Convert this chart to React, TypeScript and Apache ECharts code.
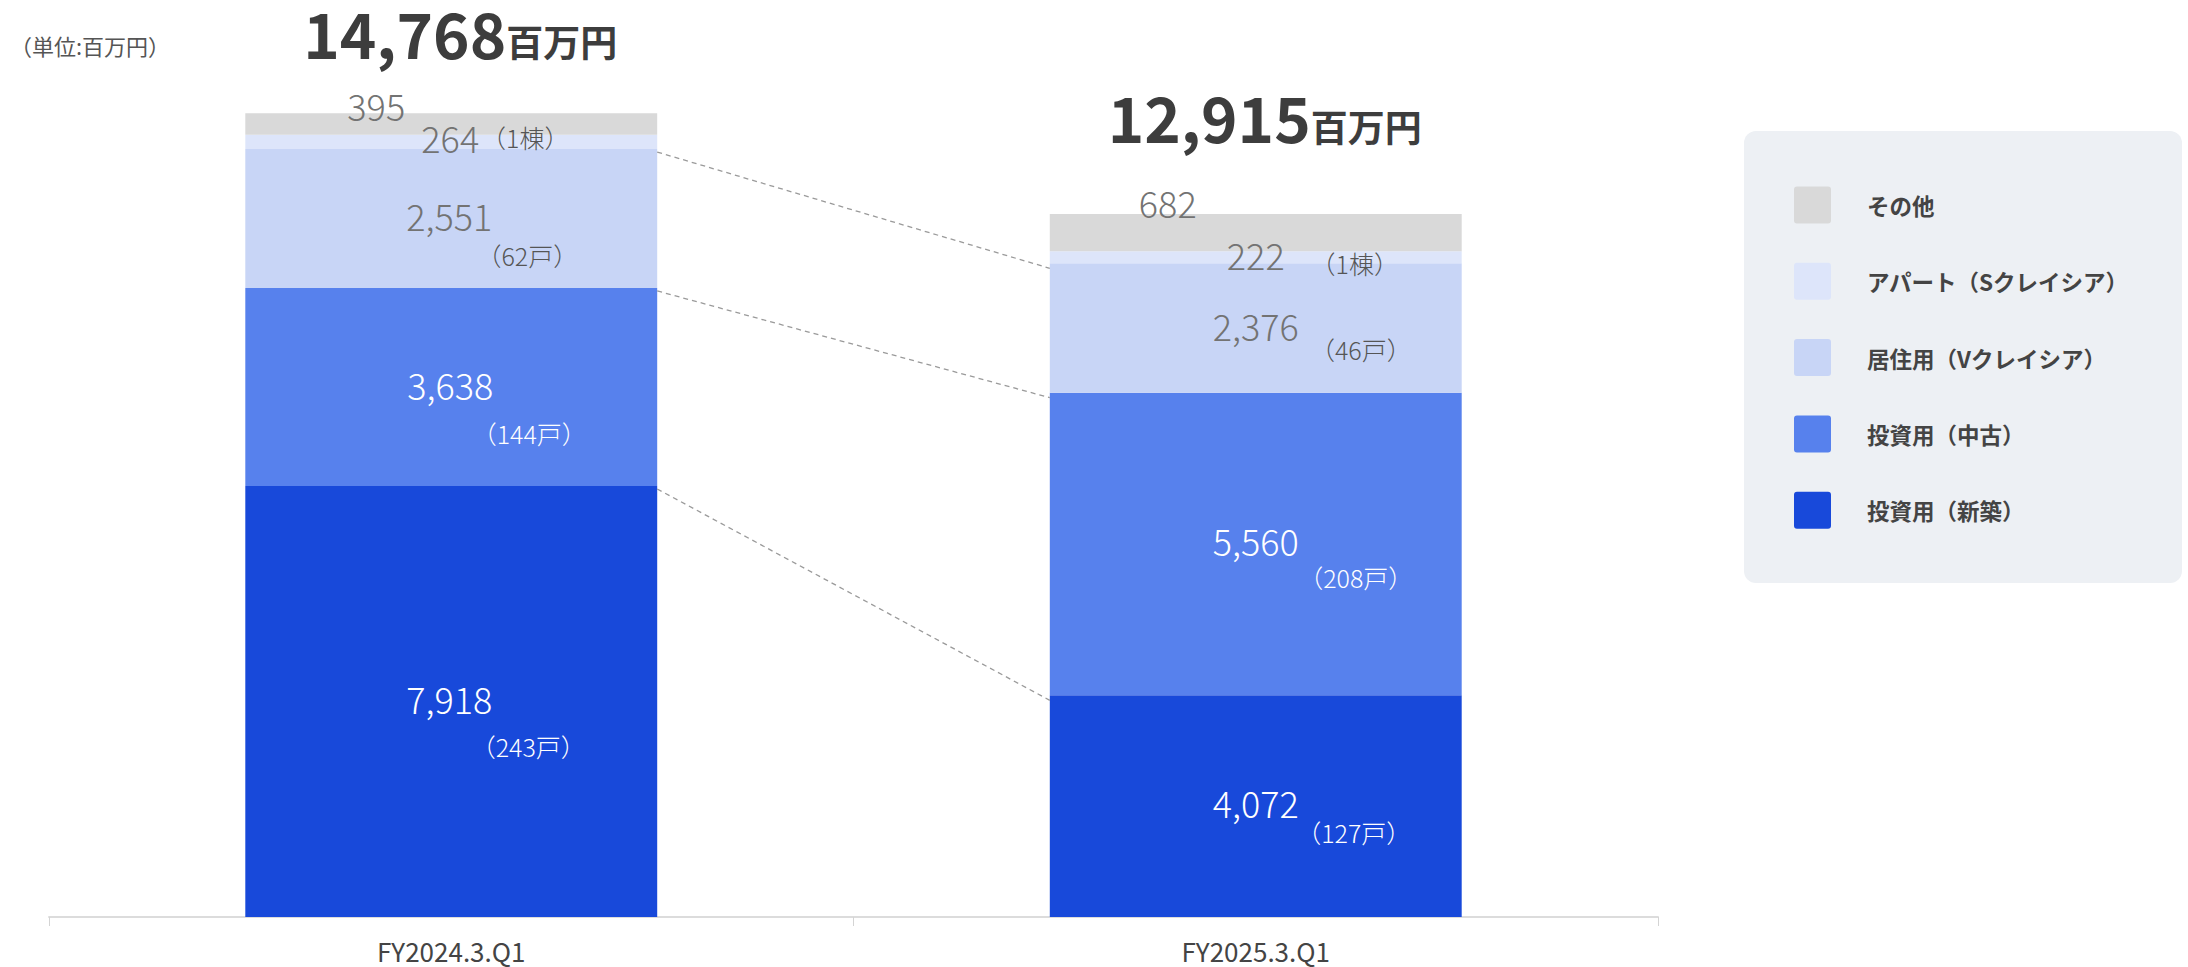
import React, { useEffect, useRef } from 'react';
import * as echarts from 'echarts';

const CATEGORIES = ['FY2024.3.Q1', 'FY2025.3.Q1'];
const SERIES_NAMES = ['投資用（新築）', '投資用（中古）', '居住用（Vクレイシア）', 'アパート（Sクレイシア）', 'その他'];
const SERIES_COLORS = ['#1849da', '#5781ed', '#c8d5f6', '#dde5fa', '#d9d9d9'];
const NEW_BUILD = [7918, 4072];
const USED = [3638, 5560];
const RESIDENTIAL = [2551, 2376];
const APARTMENT = [264, 222];
const OTHER = [395, 682];
const NEW_BUILD_UNITS = ['（243戸）', '（127戸）'];
const USED_UNITS = ['（144戸）', '（208戸）'];
const RESIDENTIAL_UNITS = ['（62戸）', '（46戸）'];
const APARTMENT_UNITS = ['（1棟）', '（1棟）'];
const TOTALS = [14768, 12915];
const TOTAL_UNIT = '百万円';
const SCALE_NOTE = '（単位:百万円）';

const SERIES_VALUES = [NEW_BUILD, USED, RESIDENTIAL, APARTMENT, OTHER];
const SERIES_UNITS: (string[] | null)[] = [NEW_BUILD_UNITS, USED_UNITS, RESIDENTIAL_UNITS, APARTMENT_UNITS, null];

// label layout (pixel shifts relative to segment centre)
const VALUE_SHIFT = [
  [[-2, -3], [0, -4]],
  [[-1, -3], [0, -4]],
  [[-2, -3], [0, -3]],
  [[-1, -5], [0, -3]],
  [[-75, -19], [-88, -31]],
];
const UNIT_SHIFT = [
  [[77, 45], [98, 26]],
  [[78, 46], [100, 33]],
  [[76, 37], [105, 21]],
  [[74, -5], [99, 6]],
];
const VALUE_COLORS = ['#ffffff', '#ffffff', '#737373', '#737373', '#737373'];
const UNIT_COLORS = ['#ffffff', '#ffffff', '#555555', '#555555'];
const BAR_RATIO = 0.512;
const FONT = "'Noto Sans CJK JP', 'Noto Sans', sans-serif";

export default function App() {
  const ref = useRef<HTMLDivElement>(null);
  useEffect(() => {
    if (!ref.current) return;
    const chart = echarts.init(ref.current, null, { renderer: 'svg' });

    const barSeries = SERIES_VALUES.map((vals, s) => ({
      name: SERIES_NAMES[s],
      type: 'bar',
      stack: 'total',
      barWidth: BAR_RATIO * 100 + '%',
      itemStyle: { color: SERIES_COLORS[s] },
      emphasis: { disabled: true },
      data: vals.map((v, i) => ({
        value: v,
        label: { offset: VALUE_SHIFT[s][i] },
      })),
      label: {
        show: true,
        position: 'inside',
        formatter: (p: any) => Number(p.value).toLocaleString('en-US'),
        color: VALUE_COLORS[s],
        fontSize: 36,
        fontWeight: 300,
        fontFamily: FONT,
      },
    }));

    // unit labels
    const unitData: number[][] = [];
    SERIES_UNITS.forEach((u, s) => {
      if (!u) return;
      for (let i = 0; i < CATEGORIES.length; i++) {
        let base = 0;
        for (let k = 0; k < s; k++) base += SERIES_VALUES[k][i];
        unitData.push([i, base + SERIES_VALUES[s][i] / 2, s]);
      }
    });

    // connector lines between boundaries
    const lineData: number[][] = [];
    for (let b = 0; b < 3; b++) {
      let c0 = 0, c1 = 0;
      for (let k = 0; k <= b; k++) { c0 += SERIES_VALUES[k][0]; c1 += SERIES_VALUES[k][1]; }
      lineData.push([0, c0, c1]);
    }

    const totalData = TOTALS.map((t, i) => [i, t]);
    const TITLE_SHIFT = [[55, -58], [55, -74]];
    const TITLE_NUM_SIZE = 62;
    const TITLE_UNIT_SIZE = 37;

    const legendItems: any[] = [];
    const legendOrder = [4, 3, 2, 1, 0];
    legendOrder.forEach((s, j) => {
      const cy = 205 + j * 76.3;
      legendItems.push({
        type: 'rect',
        shape: { x: 1794, y: cy - 18.5, width: 37, height: 37, r: 3 },
        style: { fill: SERIES_COLORS[s] },
        z: 101,
      });
      legendItems.push({
        type: 'text',
        x: 1867,
        y: cy,
        style: {
          text: SERIES_NAMES[s],
          fill: '#444444',
          fontSize: 22.5,
          fontWeight: 'bold',
          fontFamily: FONT,
          verticalAlign: 'middle',
          align: 'left',
        },
        z: 101,
      });
    });

    chart.setOption({
      animation: false,
      grid: { left: 49, right: 530, top: 46, bottom: 50, containLabel: false },
      xAxis: {
        type: 'category',
        data: CATEGORIES,
        axisLine: { lineStyle: { color: '#dcdcdc', width: 2 } },
        axisTick: { show: true, length: 9, lineStyle: { color: '#d4d4d4' } },
        axisLabel: { color: '#444444', fontSize: 26, fontFamily: FONT, margin: 20 },
      },
      yAxis: { type: 'value', min: 0, max: 16000, show: false },
      series: [
        ...barSeries,
        {
          type: 'custom',
          name: 'units',
          silent: true,
          z: 5,
          encode: { x: 0, y: 1 },
          data: unitData,
          renderItem: (params: any, api: any) => {
            const i = api.value(0);
            const s = api.value(2);
            const p = api.coord([i, api.value(1)]);
            const sh = UNIT_SHIFT[s][i];
            return {
              type: 'text',
              x: p[0] + sh[0],
              y: p[1] + sh[1],
              style: {
                text: (SERIES_UNITS[s] as string[])[i],
                fill: UNIT_COLORS[s],
                fontSize: 25,
                fontWeight: 300,
                fontFamily: FONT,
                align: 'center',
                verticalAlign: 'middle',
              },
            };
          },
        },
        {
          type: 'custom',
          name: 'connectors',
          silent: true,
          z: 4,
          encode: { x: 0, y: 1 },
          data: lineData,
          renderItem: (params: any, api: any) => {
            const a = api.coord([0, api.value(1)]);
            const c = api.coord([1, api.value(2)]);
            const half = (api.size([1, 0])[0] * BAR_RATIO) / 2;
            return {
              type: 'line',
              shape: { x1: a[0] + half, y1: a[1] + 3, x2: c[0] - half, y2: c[1] + 5 },
              style: { stroke: '#9a9a9a', lineWidth: 1.3, lineDash: [5, 4] },
            };
          },
        },
        {
          type: 'custom',
          name: 'totals',
          silent: true,
          z: 6,
          encode: { x: 0, y: 1 },
          data: totalData,
          renderItem: (params: any, api: any) => {
            const i = api.value(0);
            const p = api.coord([i, api.value(1)]);
            const x = p[0] + TITLE_SHIFT[i][0];
            const base = p[1] + TITLE_SHIFT[i][1];
            return {
              type: 'group',
              children: [
                {
                  type: 'text',
                  x,
                  y: base - 0.38 * TITLE_NUM_SIZE,
                  style: {
                    text: TOTALS[i].toLocaleString('en-US'),
                    fill: '#3d3d3d',
                    fontSize: TITLE_NUM_SIZE,
                    lineHeight: TITLE_NUM_SIZE,
                    fontWeight: 'bold',
                    fontFamily: FONT,
                    align: 'right',
                    verticalAlign: 'middle',
                  },
                },
                {
                  type: 'text',
                  x,
                  y: base - 0.38 * TITLE_UNIT_SIZE,
                  style: {
                    text: TOTAL_UNIT,
                    fill: '#3d3d3d',
                    fontSize: TITLE_UNIT_SIZE,
                    lineHeight: TITLE_UNIT_SIZE,
                    fontWeight: 'bold',
                    fontFamily: FONT,
                    align: 'left',
                    verticalAlign: 'middle',
                  },
                },
              ],
            };
          },
        },
      ],
      graphic: [
        {
          type: 'text',
          x: 10,
          y: 45,
          style: {
            text: SCALE_NOTE,
            fill: '#555555',
            fontSize: 22,
            fontFamily: FONT,
            verticalAlign: 'middle',
          },
        },
        {
          type: 'rect',
          shape: { x: 1744, y: 131, width: 438, height: 452, r: 12 },
          style: { fill: '#edf0f4' },
          z: 100,
        },
        ...legendItems,
      ],
    });
    return () => chart.dispose();
  }, []);
  return <div ref={ref} style={{ position: 'absolute', left: 0, top: 0, width: 2188, height: 967 }} />;
}
